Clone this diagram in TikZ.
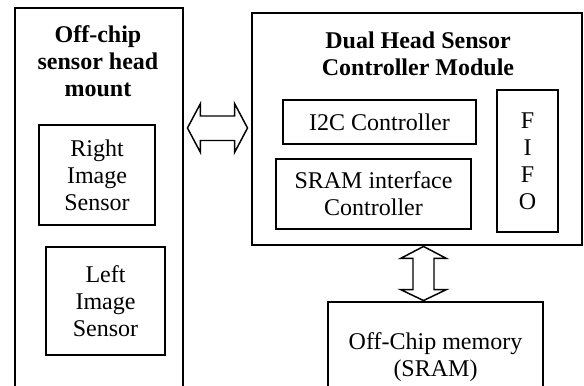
\documentclass[tikz,border=0pt]{standalone}
\usepackage{fontspec}
\setmainfont{Liberation Serif}
\usetikzlibrary{calc}
\tikzset{
  outerbox/.style={draw, line width=2.2pt, inner sep=0pt},
  innerbox/.style={draw, line width=1.3pt, inner sep=0pt, align=center,
    font=\fontsize{18pt}{20.25pt}\selectfont},
  label/.style={align=center, inner sep=0pt, font=\fontsize{18pt}{20.25pt}\selectfont},
  title/.style={label, font=\fontsize{18pt}{20.25pt}\selectfont\bfseries},
  fatarrow/.style={draw, line width=1.1pt, fill=white, line join=miter}
}
\begin{document}
\begin{tikzpicture}[x=0.75pt, y=-0.75pt]
\useasboundingbox (0,0) rectangle (584,385);
\clip (0,0) rectangle (584,385);

% sensor head mount (runs off the bottom edge)
\node[outerbox, minimum width=126pt, minimum height=290.25pt] (mount) at (99,201.5) {};
\node[title] (mounttitle) at (98,61) {Off-chip\\sensor head\\mount};
\node[innerbox, minimum width=87pt, minimum height=75pt] (rsens) at (97,175) {Right\\Image\\Sensor};
\node[innerbox, minimum width=89.25pt, minimum height=81pt] (lsens) at (105.5,301) {Left\\Image\\Sensor};

% controller module
\node[outerbox, minimum width=247.5pt, minimum height=174pt] (dual) at (417,129) {};
\node[title] (dualtitle) at (418,54) {Dual Head Sensor\\Controller Module};
\node[innerbox, minimum width=144.75pt, minimum height=33pt] (i2c) at (379.5,122) {I2C Controller};
\node[innerbox, minimum width=146.25pt, minimum height=52.5pt] (sramif) at (373.5,194) {SRAM interface\\Controller};
\node[innerbox, minimum width=45.75pt, minimum height=106.5pt] (fifo) at (527.5,161) {F\\I\\F\\O};

% external memory (runs off the bottom edge)
\node[outerbox, minimum width=161.25pt, minimum height=73.5pt] (mem) at (435.5,351) {};
\node[label] (memtext) at (435.5,357.5) {Off-Chip memory\\(SRAM)};

% horizontal double arrow between mount and module
\coordinate (hl) at ($(mount.east |- 0,128)+(3,0)$);
\coordinate (hr) at ($(dual.west |- 0,128)+(-3,0)$);
\draw[fatarrow] (hl) -- ($(hl)+(13,-24.5)$) -- ($(hl)+(13,-12)$)
  -- ($(hr)+(-13,-12)$) -- ($(hr)+(-13,-24.5)$) -- (hr)
  -- ($(hr)+(-13,24.5)$) -- ($(hr)+(-13,12.5)$)
  -- ($(hl)+(13,12.5)$) -- ($(hl)+(13,24.5)$) -- cycle;

% vertical double arrow between module and memory
\coordinate (vt) at (dual.south -| 423.5,0);
\coordinate (vb) at (mem.north -| 423.5,0);
\draw[fatarrow] (vt) -- ($(vt)+(23,12)$) -- ($(vt)+(10.5,12)$)
  -- ($(vb)+(10.5,-11)$) -- ($(vb)+(23,-11)$) -- (vb)
  -- ($(vb)+(-23,-11)$) -- ($(vb)+(-10.5,-11)$)
  -- ($(vt)+(-10.5,12)$) -- ($(vt)+(-23,12)$) -- cycle;
\end{tikzpicture}
\end{document}
